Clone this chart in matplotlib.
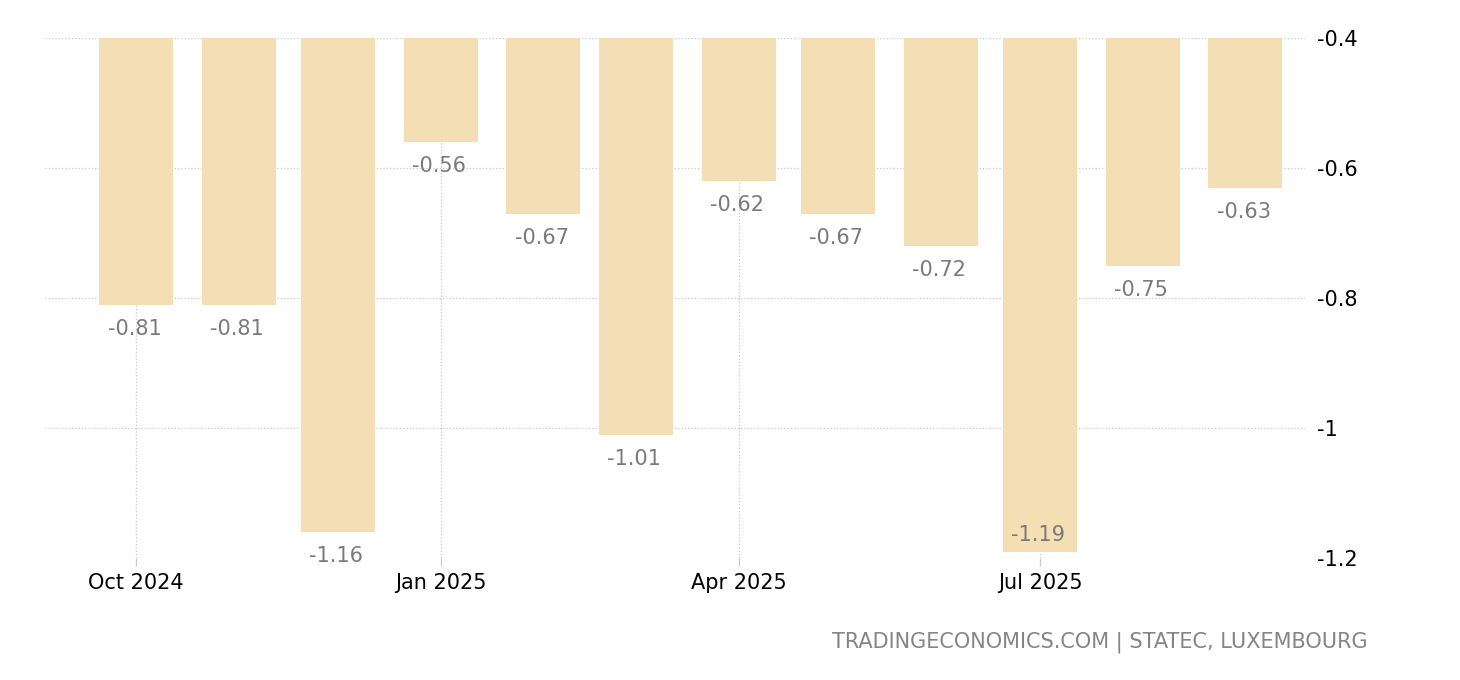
import matplotlib
matplotlib.use("Agg")
import matplotlib.pyplot as plt
import matplotlib.dates as mdates
import datetime as dt

plt.rcParams['font.family'] = ['DejaVu Sans']
plt.rcParams['axes.unicode_minus'] = False

months = ['2024-10', '2024-11', '2024-12', '2025-01', '2025-02', '2025-03',
          '2025-04', '2025-05', '2025-06', '2025-07', '2025-08', '2025-09']
values = [-0.81, -0.81, -1.16, -0.56, -0.67, -1.01,
          -0.62, -0.67, -0.72, -1.19, -0.75, -0.63]
tick_months = ['2024-10', '2025-01', '2025-04', '2025-07']
tick_labels = ['Oct 2024', 'Jan 2025', 'Apr 2025', 'Jul 2025']
y_ticks = [-0.4, -0.6, -0.8, -1.0, -1.2]
base = -0.4
y_min = -1.2

dates = [dt.datetime.strptime(m, '%Y-%m') for m in months]
tick_dates = [dt.datetime.strptime(m, '%Y-%m') for m in tick_months]
heights = [v - base for v in values]

fig = plt.figure(figsize=(14.6, 6.8), dpi=100)
ax = fig.add_axes([0.0308, 0.1794, 0.8630, 0.7647])

ax.bar(dates, heights, bottom=base, width=22.3, color='#F4DEB3', zorder=2)

# value labels under each bar; put inside the bar when there is no room below
for d, v in zip(dates, values):
    off = -24 if v - 0.035 > y_min else 17
    ax.annotate('%g' % v, (mdates.date2num(d) - 0.5, v), xytext=(0, off),
                textcoords='offset pixels',
                ha='center', va='center', fontsize=15, color='#7a7a7a', zorder=3)

ax.set_ylim(y_min, base)
ax.set_xlim(dt.datetime(2024, 9, 3, 12), dt.datetime(2025, 9, 19))
ax.yaxis.tick_right()
ax.set_yticks(y_ticks)
ax.set_yticklabels(['%g' % t for t in y_ticks])
ax.set_xticks(tick_dates)
ax.set_xticklabels(tick_labels)

ax.grid(True, color='#c8c8c8', linestyle=':', linewidth=0.9, zorder=0)
for s in ax.spines.values():
    s.set_visible(False)
ax.tick_params(axis='y', length=0, labelsize=15, pad=9, labelcolor='black')
ax.tick_params(axis='x', length=6, color='#c8c8c8', labelsize=15, pad=5, labelcolor='black')

fig.text(0.937, 0.056, 'TRADINGECONOMICS.COM | STATEC, LUXEMBOURG',
         ha='right', va='center', fontsize=15, color='#858585')

fig.savefig('out.png', dpi=100)
